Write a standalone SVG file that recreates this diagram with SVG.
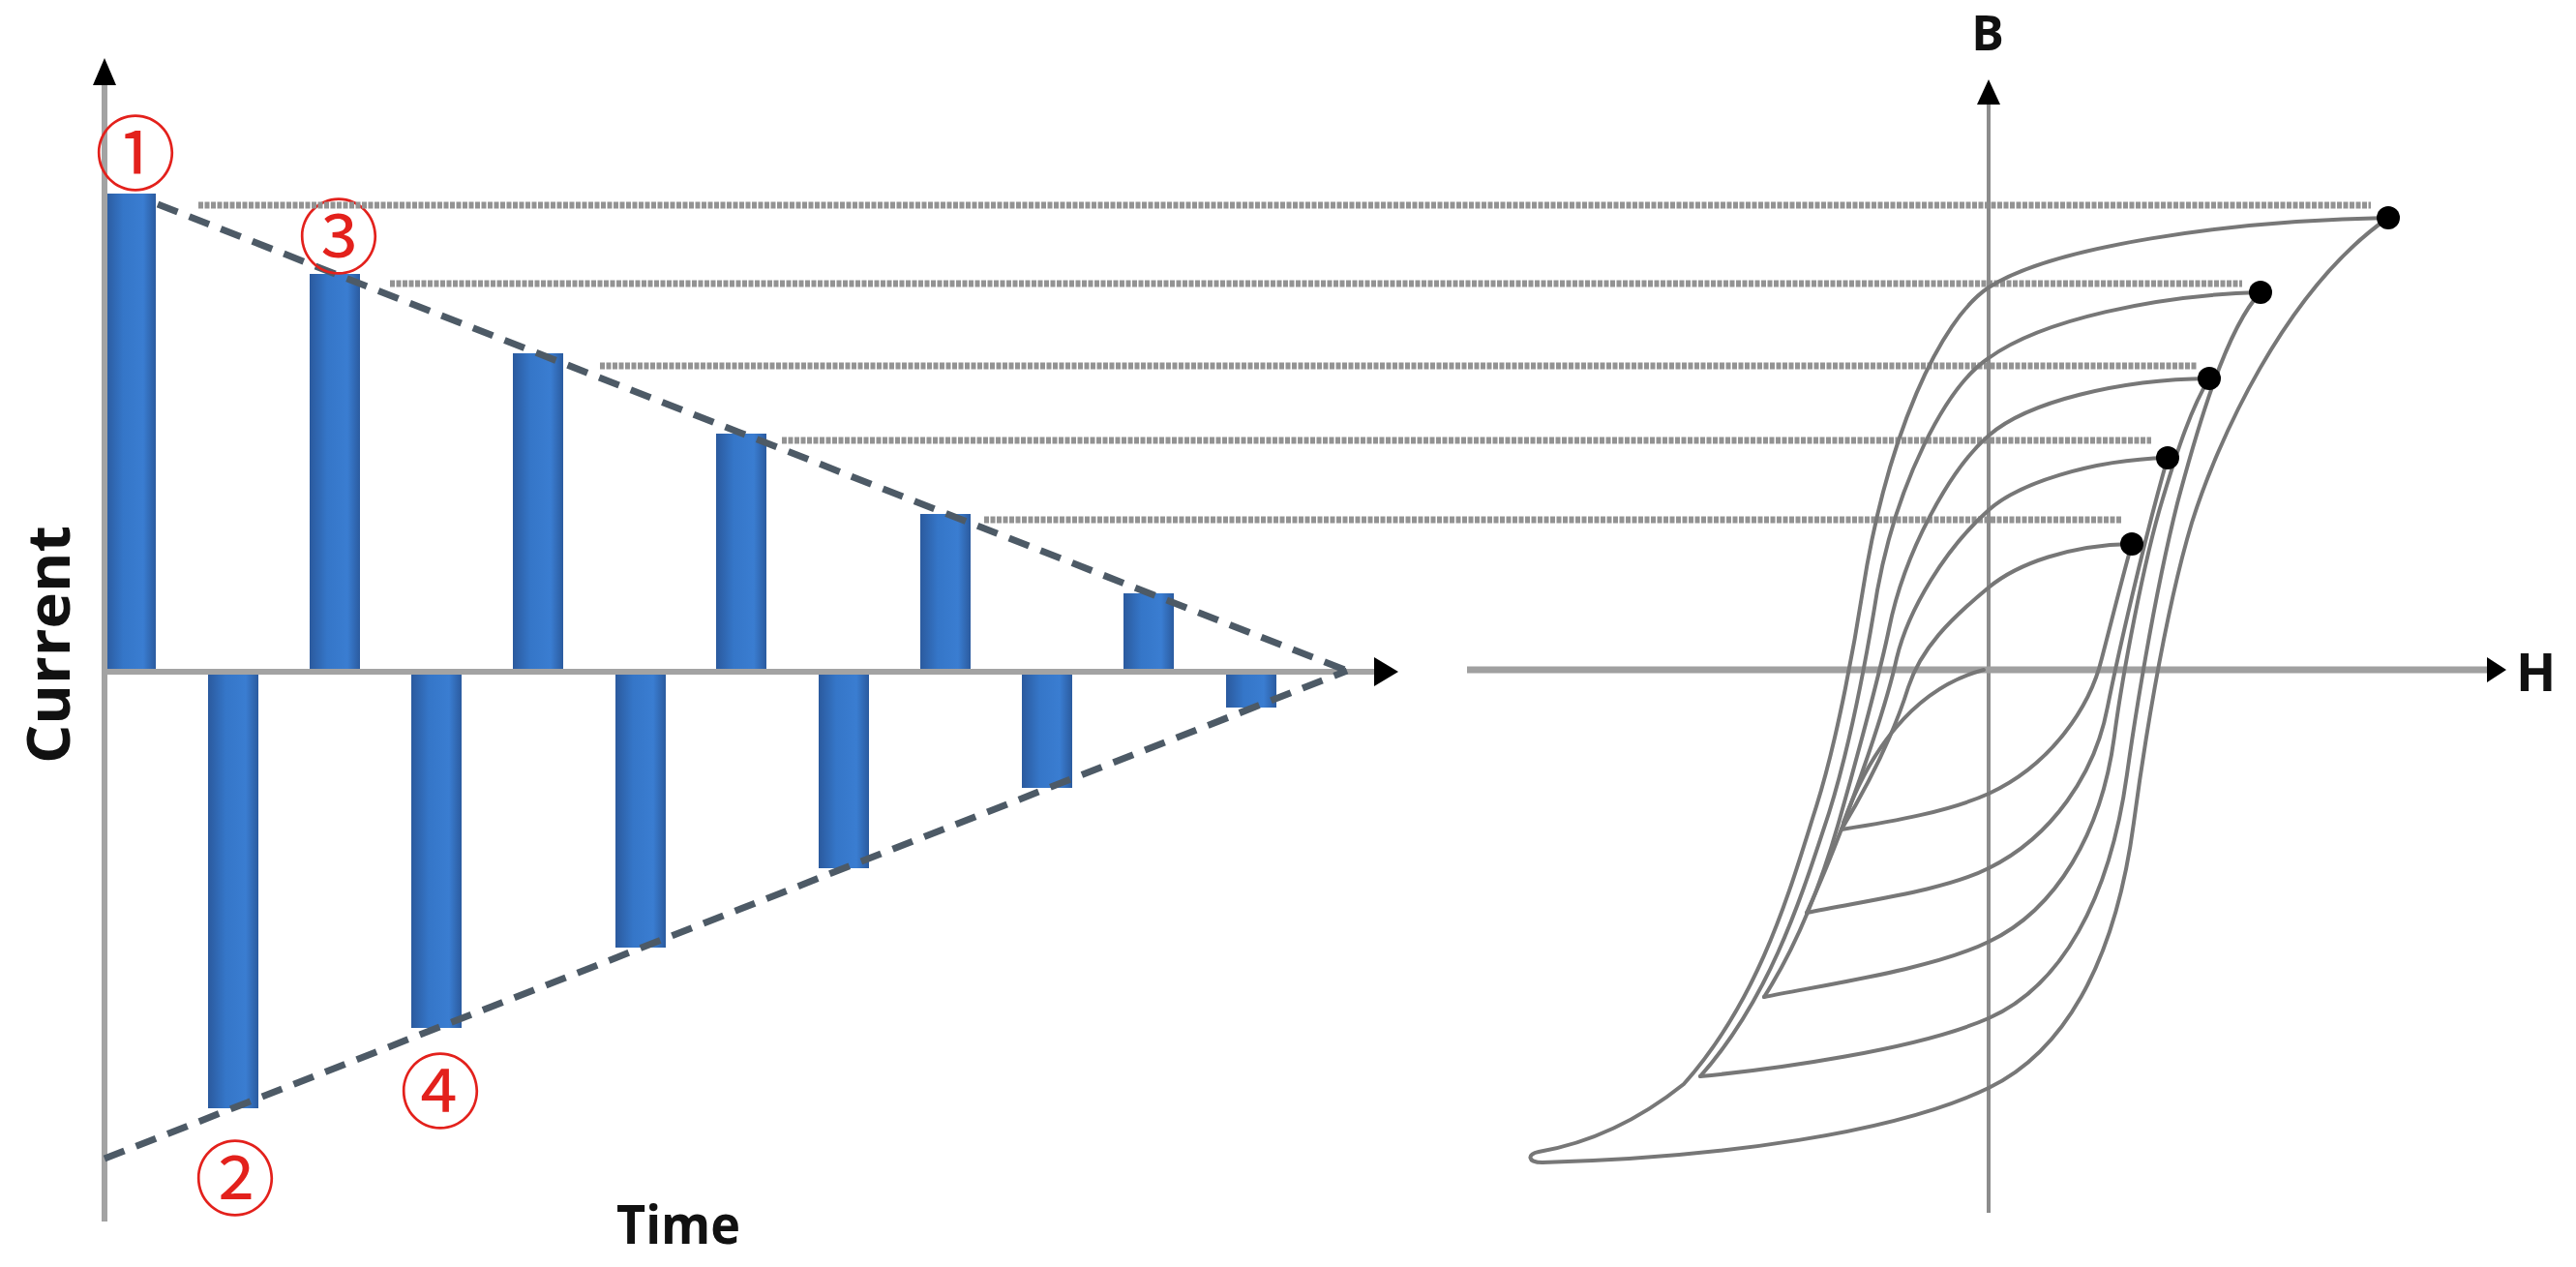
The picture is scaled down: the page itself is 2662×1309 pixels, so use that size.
<svg xmlns="http://www.w3.org/2000/svg" width="2662" height="1309" viewBox="0 0 2662 1309">
<style>
.axis{stroke:#a3a3a3;stroke-width:6;fill:none}
.axisB{stroke:#8c8c8c;stroke-width:4;fill:none}
.axisH{stroke:#a0a0a0;stroke-width:7;fill:none}
.trend{stroke:#4d5a66;stroke-width:7;stroke-dasharray:22 13;fill:none}
.proj{stroke:#939393;stroke-width:7;stroke-dasharray:5 1.5;fill:none}
.loop{stroke:#777;stroke-width:4;fill:none;stroke-linecap:round}
.dot{fill:#000}
.head{fill:#000}
.bar{fill:url(#barGrad)}
.lbl{font-family:"Open Sans","Liberation Sans",sans-serif;font-weight:700;fill:#111}
.num{font-family:"Noto Sans CJK JP","DejaVu Sans",sans-serif;fill:#e3211c;text-anchor:middle}
</style>
<defs>
<linearGradient id="barGrad" x1="0" y1="0" x2="1" y2="0">
<stop offset="0" stop-color="#2b5a9e"/>
<stop offset="0.35" stop-color="#3576c8"/>
<stop offset="0.75" stop-color="#3a7dd1"/>
<stop offset="1" stop-color="#2b5b9f"/>
</linearGradient>
</defs>
<rect width="2662" height="1309" fill="#fff"/>

<g id="current-chart">
<g id="bars-positive">
<rect class="bar" x="109" y="200" width="52" height="494"/>
<rect class="bar" x="320" y="283" width="52" height="411"/>
<rect class="bar" x="530" y="365" width="52" height="329"/>
<rect class="bar" x="740" y="448" width="52" height="246"/>
<rect class="bar" x="951" y="531" width="52" height="163"/>
<rect class="bar" x="1161" y="613" width="52" height="81"/>
</g>
<g id="bars-negative">
<rect class="bar" x="215" y="694" width="52" height="451"/>
<rect class="bar" x="425" y="694" width="52" height="368"/>
<rect class="bar" x="636" y="694" width="52" height="285"/>
<rect class="bar" x="846" y="694" width="52" height="203"/>
<rect class="bar" x="1056" y="694" width="52" height="120"/>
<rect class="bar" x="1267" y="694" width="52" height="37"/>
</g>
<g id="current-axes">
<line class="axis" x1="108" y1="1262" x2="108" y2="84"/>
<polygon class="head" points="108,60 96,88 120,88"/>
<line class="axis" x1="108" y1="694" x2="1422" y2="694"/>
<polygon class="head" points="1445,694 1420,679 1420,709"/>
</g>
<g id="envelope">
<line class="trend" x1="163" y1="211" x2="1392" y2="693"/>
<line class="trend" x1="108" y1="1197" x2="1392" y2="693"/>
</g>
<text class="lbl" transform="translate(72,666) rotate(-90)" text-anchor="middle" font-size="60" textLength="246" lengthAdjust="spacingAndGlyphs">Current</text>
<text class="lbl" x="637" y="1285" font-size="56" textLength="128" lengthAdjust="spacingAndGlyphs">Time</text>
<text class="num" x="140" y="190" font-size="84">①</text>
<text class="num" x="350" y="276" font-size="84">③</text>
<text class="num" x="243" y="1249" font-size="84">②</text>
<text class="num" x="455" y="1159" font-size="84">④</text>
</g>

<g id="projections">
<line class="proj" x1="205" y1="212" x2="2450" y2="212"/>
<line class="proj" x1="403" y1="293" x2="2317" y2="293"/>
<line class="proj" x1="620" y1="378" x2="2270" y2="378"/>
<line class="proj" x1="808" y1="455" x2="2223" y2="455"/>
<line class="proj" x1="1017" y1="537" x2="2193" y2="537"/>
</g>

<g id="bh-chart">
<g id="bh-axes">
<line class="axisB" x1="2055" y1="1253" x2="2055" y2="104"/>
<polygon class="head" points="2055,82 2043,108 2067,108"/>
<line class="axisH" x1="1516" y1="692" x2="2572" y2="692"/>
<polygon class="head" points="2590,692 2570,679 2570,705"/>
<text class="lbl" x="2054" y="52" font-size="50" text-anchor="middle">B</text>
<text class="lbl" x="2600" y="714" font-size="54">H</text>
</g>
<g id="loop-1">
<path class="loop" d="M2468,225 C2300,228 2120,255 2055,297 C2005,330 1950,450 1925,610 C1918,655 1900,760 1877,833 C1850,918 1820,1030 1740,1120 C1680,1168 1625,1184 1590,1190 C1578,1192 1578,1201 1594,1201"/>
<path class="loop" d="M1594,1201 C1780,1196 1960,1170 2055,1124 C2130,1088 2185,1000 2205,850 C2213,790 2235,640 2265,540 C2290,460 2360,300 2468,225"/>
</g>
<g id="loop-2">
<path class="loop" d="M2336,302 C2230,305 2110,330 2055,370 C2010,400 1960,500 1940,610 C1932,660 1915,760 1890,840 C1862,925 1830,1030 1757,1112"/>
<path class="loop" d="M1757,1112 C1830,1105 1980,1085 2055,1052 C2130,1019 2180,930 2198,800 C2205,750 2225,620 2250,520 C2270,445 2300,340 2336,302"/>
</g>
<g id="loop-3">
<path class="loop" d="M2283,391 C2190,392 2095,415 2055,450 C2015,485 1968,570 1952,650 C1945,685 1920,780 1900,850 C1880,920 1855,980 1823,1030"/>
<path class="loop" d="M1823,1030 C1900,1015 2000,1000 2055,973 C2125,940 2172,860 2185,760 C2193,700 2215,580 2235,515 C2250,465 2265,420 2283,391"/>
</g>
<g id="loop-4">
<path class="loop" d="M2240,473 C2160,475 2085,500 2055,527 C2010,567 1972,630 1960,680 C1948,735 1905,860 1867,943"/>
<path class="loop" d="M1867,943 C1930,930 2010,920 2055,897 C2120,865 2165,800 2178,730 C2188,680 2215,560 2240,473"/>
</g>
<g id="loop-5">
<path class="loop" d="M2203,562 C2140,563 2085,582 2055,607 C2015,640 1985,670 1972,710 C1955,765 1925,820 1903,857"/>
<path class="loop" d="M1903,857 C1960,848 2015,838 2055,820 C2120,790 2160,730 2172,680 C2185,630 2195,590 2203,562"/>
</g>
<g id="final-curve">
<path class="loop" d="M1905,850 C1930,780 1975,712 2050,692"/>
</g>
<g id="tips">
<circle class="dot" cx="2468" cy="225" r="12"/>
<circle class="dot" cx="2336" cy="302" r="12"/>
<circle class="dot" cx="2283" cy="391" r="12"/>
<circle class="dot" cx="2240" cy="473" r="12"/>
<circle class="dot" cx="2203" cy="562" r="12"/>
</g>
</g>
</svg>
